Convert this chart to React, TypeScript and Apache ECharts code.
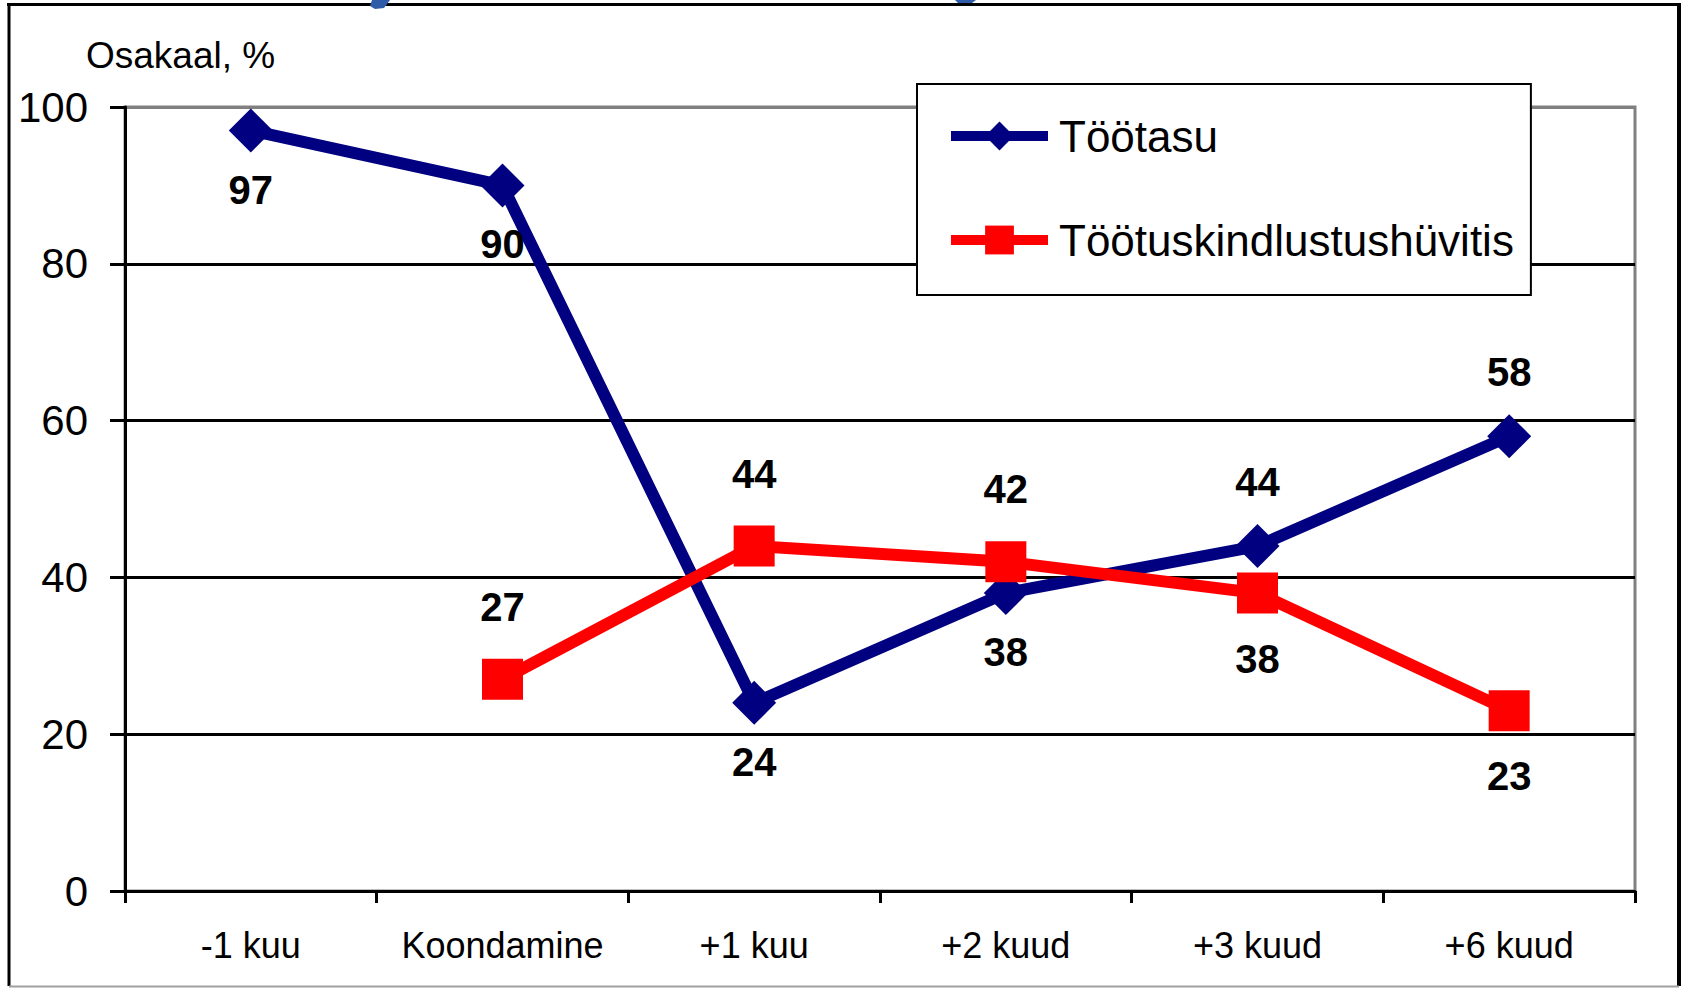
import React, { useEffect, useRef } from "react";
import * as echarts from "echarts";

const categories = ["-1 kuu", "Koondamine", "+1 kuu", "+2 kuud", "+3 kuud", "+6 kuud"];
const tootasu = [97, 90, 24, 38, 44, 58];
const huvitis: (number | null)[] = [null, 27, 44, 42, 38, 23];
const seriesNames = ["Töötasu", "Töötuskindlustushüvitis"];
const yAxisTitle = "Osakaal, %";
const yMin = 0;
const yMax = 100;
const yStep = 20;

// label placement (layout only)
const bluePos = ["bottom", "bottom", "bottom", "bottom", "top", "top"];
const redPos = ["top", "top", "top", "top", "bottom", "bottom"];

const FONT = '"Liberation Sans", Arial, Helvetica, sans-serif';

export default function App() {
  const ref = useRef<HTMLDivElement>(null);
  useEffect(() => {
    if (!ref.current) return;
    const chart = echarts.init(ref.current, null, { renderer: "svg" });
    const option: any = {
      animation: false,
      backgroundColor: "#ffffff",
      textStyle: { fontFamily: FONT },
      grid: {
        left: 125,
        top: 107,
        width: 1510,
        height: 784,
        show: true,
        borderColor: "#808080",
        borderWidth: 3,
        backgroundColor: "transparent",
      },
      xAxis: {
        type: "category",
        data: categories,
        boundaryGap: true,
        axisLine: { show: true, lineStyle: { color: "#000", width: 3 } },
        axisTick: { show: true, interval: 0, length: 12, inside: false, lineStyle: { color: "#000", width: 3 } },
        axisLabel: { interval: 0, color: "#000", fontSize: 36, fontFamily: FONT, margin: 36 },
        splitLine: { show: false },
      },
      yAxis: {
        type: "value",
        min: yMin,
        max: yMax,
        interval: yStep,
        axisLine: { show: true, lineStyle: { color: "#000", width: 3 } },
        axisTick: { show: true, length: 15, inside: false, lineStyle: { color: "#000", width: 3 } },
        axisLabel: { color: "#000", fontSize: 42, fontFamily: FONT, margin: 37 },
        splitLine: {
          show: true,
          lineStyle: { color: ["#000", "#000", "#000", "#000", "#000", "#808080"], width: 3 },
        },
      },
      legend: {
        orient: "vertical",
        left: 917,
        top: 84,
        padding: [27, 17, 30, 29],
        itemGap: 54,
        itemWidth: 97,
        itemHeight: 36,
        backgroundColor: "#ffffff",
        borderColor: "#000",
        borderWidth: 2,
        textStyle: { fontSize: 44, color: "#000", fontFamily: FONT, lineHeight: 50, padding: [0, 0, 0, 6] },
        lineStyle: { width: 10 },
        data: seriesNames,
      },
      series: [
        {
          name: seriesNames[0],
          type: "line",
          data: tootasu.map((v, i) => ({
            value: v,
            label: { position: bluePos[i], distance: bluePos[i] === "top" ? 22 : 17 },
          })),
          symbol: "diamond",
          symbolSize: 44,
          lineStyle: { color: "#000080", width: 12 },
          itemStyle: { color: "#000080" },
          label: { show: true, fontSize: 40, fontWeight: "bold", color: "#000", fontFamily: FONT },
          emphasis: { disabled: true },
        },
        {
          name: seriesNames[1],
          type: "line",
          data: huvitis.map((v, i) =>
            v === null
              ? { value: "-" }
              : { value: v, label: { position: redPos[i], distance: redPos[i] === "top" ? 32 : 25 } }
          ),
          symbol: "rect",
          symbolSize: 41,
          lineStyle: { color: "#FF0000", width: 12 },
          itemStyle: { color: "#FF0000" },
          label: { show: true, fontSize: 40, fontWeight: "bold", color: "#000", fontFamily: FONT },
          emphasis: { disabled: true },
        },
      ],
      graphic: [
        {
          type: "text",
          left: 86,
          top: 37,
          style: { text: yAxisTitle, fontSize: 37, fontFamily: FONT, fill: "#000" },
        },
        // outer frame
        { type: "line", shape: { x1: 7, y1: 4.5, x2: 1680, y2: 4.5 }, style: { stroke: "#000", lineWidth: 3 } },
        { type: "line", shape: { x1: 9, y1: 3, x2: 9, y2: 986 }, style: { stroke: "#000", lineWidth: 3 } },
        { type: "line", shape: { x1: 1679, y1: 3, x2: 1679, y2: 986 }, style: { stroke: "#000", lineWidth: 4 } },
        { type: "line", shape: { x1: 9, y1: 986.5, x2: 1679, y2: 986.5 }, style: { stroke: "#a0a0a0", lineWidth: 2 } },
        // fragments of a cut-off title
        {
          type: "polygon",
          shape: { points: [[372, 0], [390, 0], [384, 8], [375, 9], [370, 6]] },
          style: { fill: "#2E5CA8" },
        },
        {
          type: "polygon",
          shape: { points: [[955, 0], [976, 0], [972, 3], [958, 3]] },
          style: { fill: "#2E5CA8" },
        },
      ],
    };
    chart.setOption(option);
    return () => chart.dispose();
  }, []);
  return (
    <div
      ref={ref}
      style={{ position: "absolute", left: 0, top: 0, width: 1682, height: 988 }}
    />
  );
}
